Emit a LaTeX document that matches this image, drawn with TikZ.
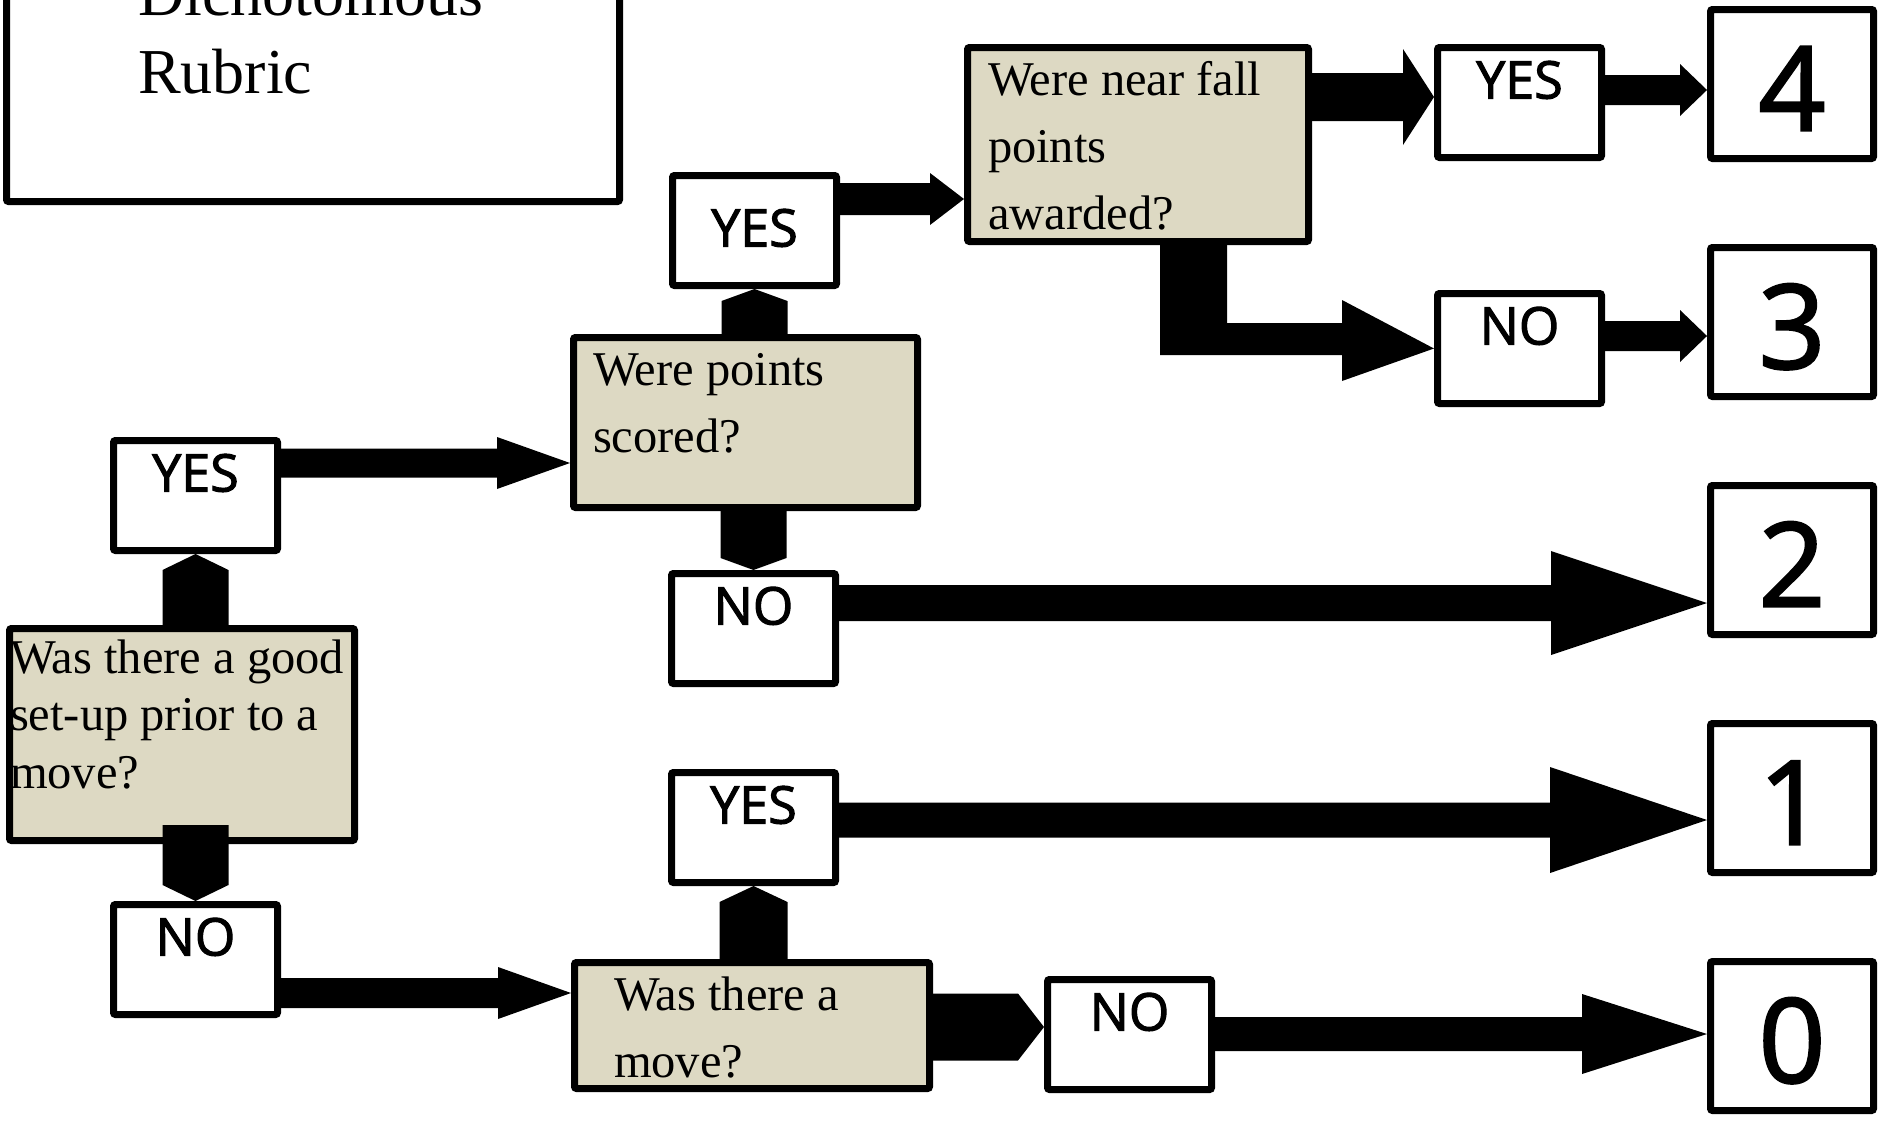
\documentclass[tikz,border=0pt]{standalone}
\usepackage{fontspec}
\setmainfont{Liberation Serif}
\newfontfamily\answerfont{Open Sans}[FakeBold=2]
\usetikzlibrary{positioning}
\usetikzlibrary{calc}
\definecolor{qtan}{HTML}{DDD9C3}
\tikzset{question/.style = {draw, fill=qtan, line width=7pt, rounded corners=2pt, inner sep=0pt, align=flush left, text height=33pt, font=\fontsize{48.5}{67}\selectfont}}
\tikzset{answer/.style = {draw, fill=white, line width=7pt, rounded corners=2pt, inner sep=0pt, minimum width=164pt, minimum height=110pt, text height=38pt, text depth=46pt, font=\answerfont\fontsize{52}{60}\selectfont}}
\tikzset{score/.style = {draw, fill=white, line width=7pt, rounded corners=2pt, inner sep=0pt, minimum width=163pt, minimum height=149pt, text height=93pt, text depth=0pt, font=\answerfont\fontsize{117}{117}\selectfont, node distance=82pt}}

% block arrow to the right: from, to, y, shaft half, head half, head length
\newcommand\hblock[6]{%
  \fill let \p1=(#1), \p2=(#2), \p3=(0,#3) in
    (\x1,\y3+#4pt) -- (\x2-#6pt,\y3+#4pt) -- (\x2-#6pt,\y3+#5pt) -- (\x2,\y3)
    -- (\x2-#6pt,\y3-#5pt) -- (\x2-#6pt,\y3-#4pt) -- (\x1,\y3-#4pt) -- cycle;}
% block arrow up or down: from, to, half width, tip length (minus when down)
\newcommand\vblock[4]{%
  \fill let \p1=(#1), \p2=(#2) in
    (\x2-#3pt,\y1) -- ({\x2-#3pt},{\y2-(#4pt)}) -- (\x2,\y2)
    -- ({\x2+#3pt},{\y2-(#4pt)}) -- (\x2+#3pt,\y1) -- cycle;}

\begin{document}
\begin{tikzpicture}[x=1pt,y=-1pt]
\useasboundingbox (0,0) rectangle (1881,1127);
\node[draw, line width=7pt, rounded corners=2pt, inner sep=0pt, anchor=south west, minimum width=613pt, minimum height=339pt, text width=350pt, align=flush left, text height=44pt, text depth=78pt, font=\fontsize{64}{78}\selectfont] (title) at (3,205) {Dichotomous\\Rubric};
% questions
\node[question, anchor=north west, minimum width=345pt, minimum height=212pt, text width=344pt, text depth=156pt, font=\fontsize{48.5}{57.5}\selectfont] (a) at (6,625) {Was there a good\\set-up prior to a\\move?};
\node[question, anchor=north west, minimum width=344pt, minimum height=170pt, text width=305pt, text depth=108pt] (b) at (570,334) {Were points\\scored?};
\node[question, anchor=north west, minimum width=341pt, minimum height=194pt, text width=300pt, text depth=132pt] (c) at (964,44) {Were near fall\\points\\awarded?};
\node[question, anchor=north west, minimum width=355pt, minimum height=126pt, text width=276pt, text depth=64pt] (d) at (571,959) {Was there a\\move?};
% answers
\node[answer, anchor=north west] (y1) at (110,437) {YES};
\node[answer, anchor=north west] (n1) at (110,901) {NO};
\node[answer, anchor=north west, text height=60pt, text depth=28pt] (y2) at (669,172) {YES};
\node[answer, anchor=north west] (n2) at (668,570) {NO};
\node[answer, anchor=north west] (y3) at (1434,44) {YES};
\node[answer, below=129pt of y3] (n3) {NO};
\node[answer, anchor=north west] (y4) at (668,769) {YES};
\node[answer, anchor=north west] (n4) at (1044,976) {NO};
% scores
\node[score, anchor=north west] (s4) at (1707,6) {4};
\node[score, below=of s4] (s3) {3};
\node[score, below=of s3] (s2) {2};
\node[score, below=of s2] (s1) {1};
\node[score, below=of s1] (s0) {0};
% arrows
\vblock{a.north}{y1.south}{33}{16}
\vblock{[yshift=19pt]a.south}{n1.north}{33}{-16}
\vblock{b.north}{y2.south}{33}{12}
\vblock{b.south}{n2.north}{33}{-12}
\vblock{d.north}{y4.south}{34}{16}
\hblock{y1.east}{b.west}{463}{14.5}{26}{73}
\hblock{n1.east}{d.west}{993}{15}{26}{73}
\hblock{y2.east}{c.west}{199}{16}{26}{34}
\hblock{c.east}{y3.west}{97}{24}{48}{31}
\fill (c.south -| 1160,0) -- (c.south -| 1227,0) -- (1227,323) -- (1342,323) -- (1342,300) -- (n3.west)
  -- (1342,381) -- (1342,355) -- (1160,355) -- cycle;
\hblock{y3.east}{s4.west}{90}{15}{26}{27}
\hblock{n3.east}{s3.west}{336}{15}{26}{27}
\hblock{n2.east}{s2.west}{603}{18}{52}{156}
\hblock{y4.east}{s1.west}{820}{17.5}{53}{157}
\hblock{d.east}{n4.west}{1027}{33.5}{33.5}{26}
\hblock{n4.east}{s0.west}{1034}{17}{40}{125}
\end{tikzpicture}
\end{document}
